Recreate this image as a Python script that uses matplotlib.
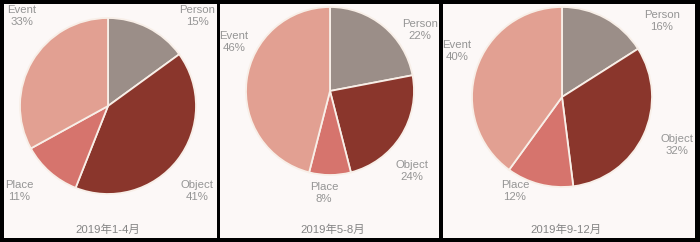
import matplotlib
matplotlib.use('Agg')
from matplotlib import pyplot as plt
from matplotlib.patches import Rectangle

categories = ['Person', 'Object', 'Place', 'Event']
periods = ['2019年1-4月', '2019年5-8月', '2019年9-12月']
shares_jan_apr = [15, 41, 11, 33]
shares_may_aug = [22, 24, 8, 46]
shares_sep_dec = [16, 32, 12, 40]
all_shares = [shares_jan_apr, shares_may_aug, shares_sep_dec]

pie_colors = ['#9b8e88', '#8a362c', '#d6746d', '#e2a092']
text_color = '#959595'
bg = '#fcf8f7'

W, H = 700, 242
# layout in pixel units (y measured from the top)
panels = [(4, 216.5), (219.5, 439), (443, 694.5)]
centers = [(108, 106), (330, 91), (562, 97)]
radii = [88, 84, 90]
label_pos = [
    [(197, 16), (197, 191), (19, 191), (22, 16)],
    [(420, 30), (412, 171), (324, 193), (234, 42)],
    [(662, 21), (677, 145), (515, 191), (457, 51)],
]
title_x = [108, 333, 566]

fig = plt.figure(figsize=(W / 100, H / 100), dpi=100, facecolor='black')
ax = fig.add_axes([0, 0, 1, 1])
ax.set_facecolor('black')

for (x0, x1) in panels:
    ax.add_patch(Rectangle((x0, H - 238), x1 - x0, 234, facecolor=bg,
                           edgecolor='none', zorder=0))

for i, shares in enumerate(all_shares):
    cx, cy = centers[i]
    ax.pie(shares, center=(cx, H - cy), radius=radii[i], startangle=90,
           counterclock=False, colors=pie_colors,
           wedgeprops=dict(edgecolor='#f8efe8', linewidth=1.3))
    for name, val, (lx, ly) in zip(categories, shares, label_pos[i]):
        ax.text(lx, H - ly, f'{name}\n{val}%', ha='center', va='center',
                color=text_color, fontsize=8.2, linespacing=1.15,
                family=['Liberation Sans', 'DejaVu Sans'])
    ax.text(title_x[i], H - 230, periods[i], ha='center', va='center',
            color='#858585', fontsize=8.2,
            family=['Liberation Sans', 'Noto Sans CJK SC'])

ax.set_xlim(0, W)
ax.set_ylim(0, H)
ax.set_aspect('auto')
ax.axis('off')
fig.savefig('out.png', dpi=100, facecolor='black')
